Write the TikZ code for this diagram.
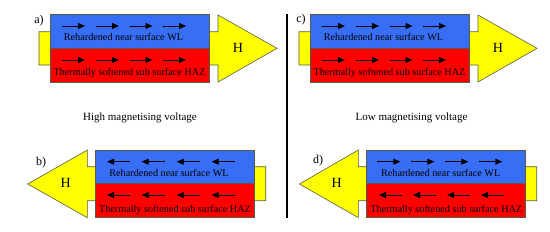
\documentclass[tikz,border=0pt]{standalone}
\usepackage{fontspec}
\setmainfont{Liberation Serif}
\usetikzlibrary{arrows.meta}
\definecolor{wlblue}{RGB}{55,110,245}
\definecolor{hazred}{RGB}{255,0,0}
\definecolor{hyellow}{RGB}{255,255,0}
\definecolor{edgegray}{RGB}{90,90,70}
\tikzset{
  layer/.style={draw=edgegray,line width=0.6pt},
  harrow/.style={fill=hyellow,draw=edgegray,line width=0.6pt,line join=miter},
  magarrow/.style={-{Triangle[length=7pt,width=6pt]},line width=0.9pt,black},
  lbl/.style={font=\fontsize{10.2}{11}\selectfont,inner sep=0pt},
  hlbl/.style={font=\fontsize{14}{15}\selectfont,inner sep=0pt},
  caplbl/.style={font=\fontsize{12}{13}\selectfont,inner sep=0pt},
  midlbl/.style={font=\fontsize{11}{12}\selectfont,inner sep=0pt}
}
\begin{document}
\begin{tikzpicture}[x=1pt,y=-1pt]
\useasboundingbox (0,0) rectangle (550,231);
% ---------- panel a ----------
\draw[harrow] (39,31.7) -- (218,31.7) -- (218,15) -- (277,48.3) -- (218,82) -- (218,65) -- (39,65) -- cycle;
\filldraw[layer,fill=wlblue] (50,14.7) rectangle (209,48.3);
\filldraw[layer,fill=hazred] (50,48.3) rectangle (209,82.3);
\foreach \x in {62,96,129.5,163}{
  \draw[magarrow] (\x,26) -- ++(23,0);
  \draw[magarrow] (\x,60) -- ++(23,0);
}
\node[lbl] (aWL) at (123.5,37) {Rehardened near surface WL};
\node[lbl] (aHAZ) at (129.5,73) {Thermally softened sub surface HAZ};
\node[hlbl] (aH) at (238,48) {H};
\node[caplbl] (aL) at (39,21) {a)};
% ---------- panel c ----------
\draw[harrow] (299,31.7) -- (478,31.7) -- (478,15) -- (537,48.3) -- (478,82) -- (478,65) -- (299,65) -- cycle;
\filldraw[layer,fill=wlblue] (310,14.7) rectangle (469,48.3);
\filldraw[layer,fill=hazred] (310,48.3) rectangle (469,82.3);
\foreach \x in {322,356,389.5,423}{
  \draw[magarrow] (\x,26) -- ++(23,0);
  \draw[magarrow] (\x,60) -- ++(23,0);
}
\node[lbl] (cWL) at (383.5,37) {Rehardened near surface WL};
\node[lbl] (cHAZ) at (389.5,73) {Thermally softened sub surface HAZ};
\node[hlbl] (cH) at (498,48) {H};
\node[caplbl] (cL) at (301,20) {c)};
% ---------- panel b ----------
\draw[harrow] (265.7,166.7) -- (87.3,166.7) -- (87.3,150) -- (27.7,184) -- (87.3,217.7) -- (87.3,200.7) -- (265.7,200.7) -- cycle;
\filldraw[layer,fill=wlblue] (95,150) rectangle (254,183.3);
\filldraw[layer,fill=hazred] (95,183.3) rectangle (254,217.7);
\foreach \x in {107,141.7,176.7,211.7}{
  \draw[magarrow] (\x+23,161.7) -- (\x,161.7);
  \draw[magarrow] (\x+23,195) -- (\x,195);
}
\node[lbl] (bWL) at (169,172.7) {Rehardened near surface WL};
\node[lbl] (bHAZ) at (175,210) {Thermally softened sub surface HAZ};
\node[hlbl] (bH) at (65.7,183) {H};
\node[caplbl] (bL) at (41,163) {b)};
% ---------- panel d ----------
\draw[harrow] (536.7,166.7) -- (358.3,166.7) -- (358.3,150) -- (299.4,184) -- (358.3,217.7) -- (358.3,200.7) -- (536.7,200.7) -- cycle;
\filldraw[layer,fill=wlblue] (366.7,150) rectangle (525,183.3);
\filldraw[layer,fill=hazred] (366.7,183.3) rectangle (525,217.7);
\foreach \x in {377.3,411.3,445.3,479.3}{
  \draw[magarrow] (\x,161.7) -- ++(23,0);
}
\foreach \x in {379,413,447,481}{
  \draw[magarrow] (\x+23,195) -- (\x,195);
}
\node[lbl] (dWL) at (440.7,172.7) {Rehardened near surface WL};
\node[lbl] (dHAZ) at (446.3,210) {Thermally softened sub surface HAZ};
\node[hlbl] (dH) at (336.7,183) {H};
\node[caplbl] (dL) at (318,161) {d)};
% ---------- middle ----------
\node[midlbl] (hi) at (140,117.5) {High magnetising voltage};
\node[midlbl] (lo) at (411.5,117.5) {Low magnetising voltage};
\draw[line width=2pt] (287.3,14) -- (287.3,218);
\end{tikzpicture}
\end{document}
